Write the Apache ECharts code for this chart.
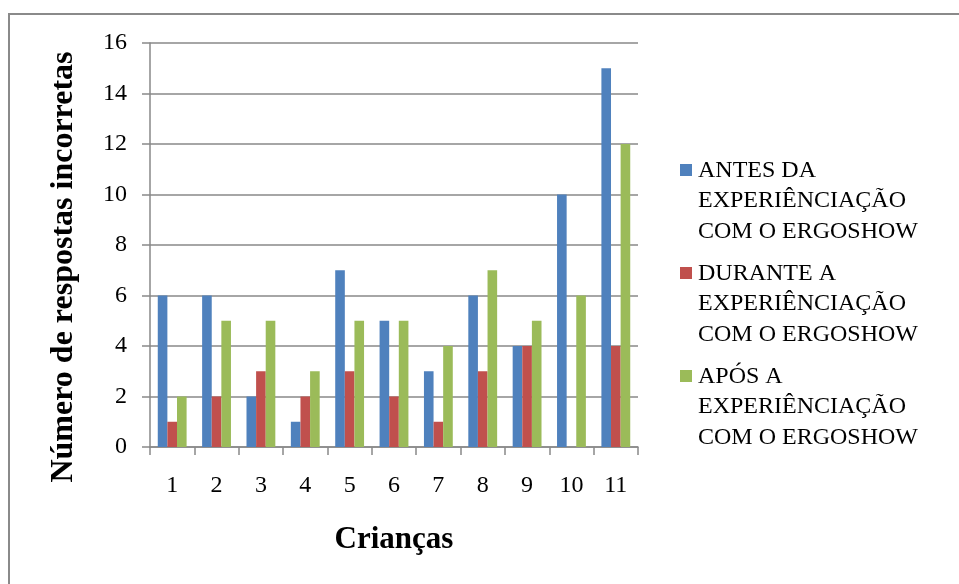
<!DOCTYPE html>
<html>
<head>
<meta charset="utf-8">
<script src="https://cdn.jsdelivr.net/npm/echarts@6/dist/echarts.min.js"></script>
<style>
  html, body { margin: 0; padding: 0; background: #ffffff; overflow: hidden; }
  #frame {
    position: absolute; left: 8px; top: 13px; width: 1000px; height: 1000px;
    border: 2px solid #8a8a8a; box-sizing: border-box;
  }
  #chart { position: absolute; left: 0; top: 0; width: 959px; height: 584px; }
</style>
</head>
<body>
<div id="frame"></div>
<div id="chart"></div>
<script>
// Children (x axis categories)
const categories = ['1', '2', '3', '4', '5', '6', '7', '8', '9', '10', '11'];

// Incorrect answers per child
const antes   = [6, 6, 2, 1, 7, 5, 3, 6, 4, 10, 15];
const durante = [1, 2, 3, 2, 3, 2, 1, 3, 4, 0, 4];
const apos    = [2, 5, 5, 3, 5, 5, 4, 7, 5, 6, 12];

// Legend text, one entry per series, split into lines
const legendLines = [
  ['ANTES DA', 'EXPERIÊNCIAÇÃO', 'COM O ERGOSHOW'],
  ['DURANTE A', 'EXPERIÊNCIAÇÃO', 'COM O ERGOSHOW'],
  ['APÓS A', 'EXPERIÊNCIAÇÃO', 'COM O ERGOSHOW']
];
const seriesNames = legendLines.map(l => l.join(' '));

// Y axis ticks
const yMin = 0, yMax = 16, yStep = 2;

const colors = ['#4F81BD', '#C0504D', '#9BBB59'];
const serif = "'Liberation Serif', 'Times New Roman', serif";
const gray = '#898989';

// Square marker drawn at the top of a tall icon box so it sits beside the first text line
const legendIcon = 'path://M0,0L0.01,0M0,9L12,9L12,21L0,21ZM13,92L12.99,92';

const chart = echarts.init(document.getElementById('chart'), null, { renderer: 'canvas' });

const values = [antes, durante, apos];

chart.setOption({
  animation: false,
  backgroundColor: 'transparent',
  color: colors,
  grid: { left: 150, right: 321, top: 43, bottom: 137, containLabel: false },
  legend: {
    orient: 'vertical',
    left: 680,
    top: 155,
    padding: 0,
    itemGap: 11,
    itemWidth: 13,
    itemHeight: 92,
    icon: legendIcon,
    itemStyle: { borderWidth: 0 },
    data: seriesNames,
    formatter: name => legendLines[seriesNames.indexOf(name)].join('\n'),
    textStyle: {
      fontFamily: serif,
      fontSize: 24,
      lineHeight: 30.5,
      color: '#000000'
    }
  },
  xAxis: {
    type: 'category',
    data: categories,
    name: 'Crianças',
    nameLocation: 'middle',
    nameGap: 77,
    nameTextStyle: { fontFamily: serif, fontSize: 31, fontWeight: 'bold', color: '#000000' },
    axisLine: { show: true, lineStyle: { color: gray, width: 1.5 } },
    axisTick: { show: true, alignWithLabel: false, length: 8, lineStyle: { color: gray, width: 1.5 } },
    axisLabel: { fontFamily: serif, fontSize: 24, color: '#000000', margin: 27, interval: 0 },
    splitLine: { show: false }
  },
  yAxis: {
    type: 'value',
    min: yMin,
    max: yMax,
    interval: yStep,
    name: 'Número de respostas incorretas',
    nameLocation: 'middle',
    nameGap: 70,
    nameTextStyle: {
      fontFamily: serif, fontSize: 32, fontWeight: 'bold', color: '#000000',
      padding: [0, 44, 0, 0]
    },
    axisLine: { show: true, lineStyle: { color: gray, width: 1.5 } },
    axisTick: { show: true, length: 8, lineStyle: { color: gray, width: 1.5 } },
    axisLabel: { fontFamily: serif, fontSize: 24, color: '#000000', margin: 23 },
    splitLine: { show: true, lineStyle: { color: gray, width: 1.5 } }
  },
  series: seriesNames.map((name, i) => ({
    name: name,
    type: 'bar',
    data: values[i],
    barGap: '0%',
    barCategoryGap: '35%',
    itemStyle: { color: colors[i] }
  }))
});
</script>
</body>
</html>
